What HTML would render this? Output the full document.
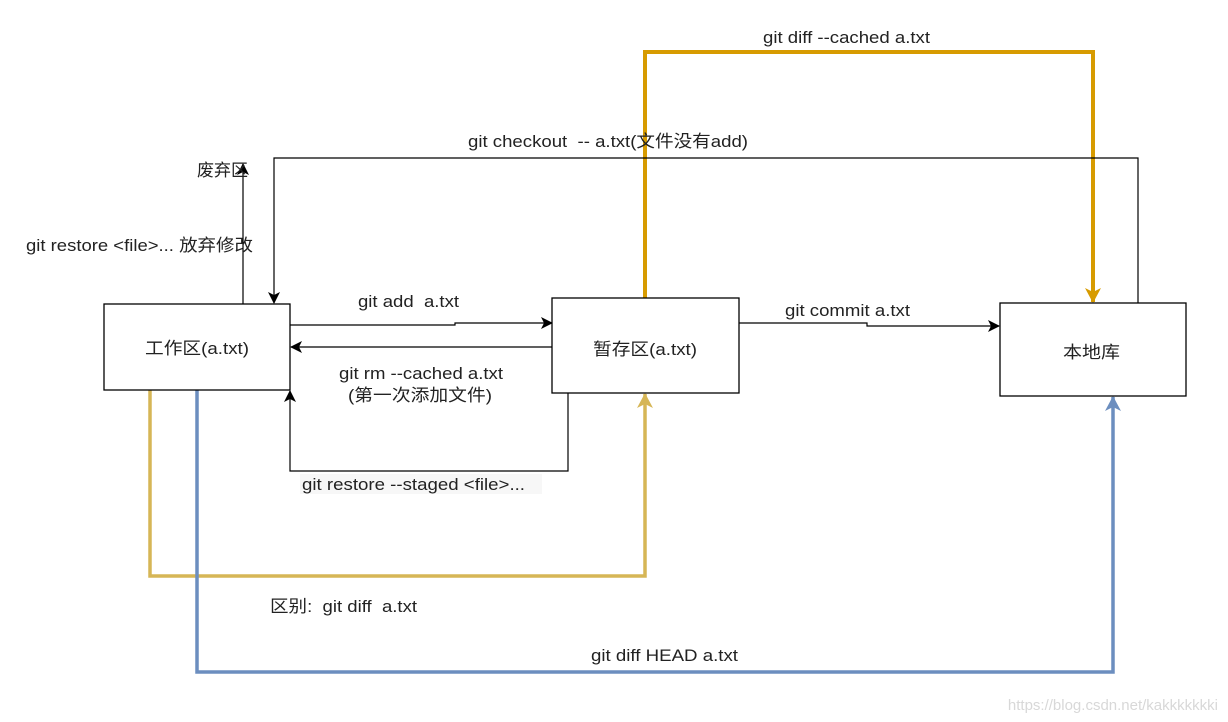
<!DOCTYPE html>
<html><head><meta charset="utf-8"><style>
html,body{margin:0;padding:0;background:#fff;}
svg{display:block;}
text{font-family:"Liberation Sans","Noto Sans CJK SC",sans-serif;font-size:17px;fill:#222;}
</style></head><body>
<svg width="1228" height="722" viewBox="0 0 1228 722" xmlns="http://www.w3.org/2000/svg">
<defs>
<marker id="ak" markerWidth="12" markerHeight="12" refX="11" refY="6" orient="auto" markerUnits="userSpaceOnUse"><path d="M0,0 L12,6 L0,12 L3,6 Z" fill="#000"/></marker>
<marker id="ao" markerWidth="16" markerHeight="16" refX="14" refY="8" orient="auto" markerUnits="userSpaceOnUse"><path d="M0,0 L15,8 L0,16 L4,8 Z" fill="#d79b00"/></marker>
<marker id="ay" markerWidth="16" markerHeight="16" refX="14" refY="8" orient="auto" markerUnits="userSpaceOnUse"><path d="M0,0 L15,8 L0,16 L4,8 Z" fill="#d6b656"/></marker>
<marker id="ab" markerWidth="16" markerHeight="16" refX="14" refY="8" orient="auto" markerUnits="userSpaceOnUse"><path d="M0,0 L15,8 L0,16 L4,8 Z" fill="#6c8ebf"/></marker>
</defs>
<g fill="none">
<polyline points="150,390 150,576 645,576 645,394" stroke="#d6b656" stroke-width="3.5" marker-end="url(#ay)"/>
<polyline points="197,390 197,672 1113,672 1113,397" stroke="#6c8ebf" stroke-width="3.5" marker-end="url(#ab)"/>
<polyline points="645,298 645,52 1093,52 1093,302" stroke="#d79b00" stroke-width="4" marker-end="url(#ao)"/>
<polyline points="1138,303 1138,158 274,158 274,303" stroke="#000" stroke-width="1.2" marker-end="url(#ak)"/>
<polyline points="243,304 243,164" stroke="#000" stroke-width="1.2" marker-end="url(#ak)"/>
<polyline points="290,325 455,325 455,323 552,323" stroke="#000" stroke-width="1.2" marker-end="url(#ak)"/>
<polyline points="552,347 291,347" stroke="#000" stroke-width="1.2" marker-end="url(#ak)"/>
<polyline points="568,393 568,471 290,471 290,391" stroke="#000" stroke-width="1.2" marker-end="url(#ak)"/>
<polyline points="739,323 867,323 867,326 999,326" stroke="#000" stroke-width="1.2" marker-end="url(#ak)"/>
<rect x="104" y="304" width="186" height="86" fill="#fff" stroke="#000" stroke-width="1.3"/>
<rect x="552" y="298" width="187" height="95" fill="#fff" stroke="#000" stroke-width="1.3"/>
<rect x="1000" y="303" width="186" height="93" fill="#fff" stroke="#000" stroke-width="1.3"/>
</g>
<text x="145" y="354" textLength="104" lengthAdjust="spacingAndGlyphs">工作区(a.txt)</text>
<text x="593" y="355" textLength="104" lengthAdjust="spacingAndGlyphs">暂存区(a.txt)</text>
<text x="1063" y="358" textLength="57" lengthAdjust="spacingAndGlyphs">本地库</text>
<text x="763" y="43" textLength="167" lengthAdjust="spacingAndGlyphs">git diff --cached a.txt</text>
<text x="468" y="147" textLength="280" lengthAdjust="spacingAndGlyphs">git checkout &#160;-- a.txt(文件没有add)</text>
<text x="197" y="176" textLength="51" lengthAdjust="spacingAndGlyphs">废弃区</text>
<text x="26" y="251" textLength="227" lengthAdjust="spacingAndGlyphs">git restore &lt;file&gt;... 放弃修改</text>
<text x="358" y="307" textLength="101" lengthAdjust="spacingAndGlyphs">git add &#160;a.txt</text>
<text x="339" y="379" textLength="164" lengthAdjust="spacingAndGlyphs">git rm --cached a.txt</text>
<text x="348" y="401" textLength="144" lengthAdjust="spacingAndGlyphs">(第一次添加文件)</text>
<rect x="300" y="474" width="242" height="20" fill="#f7f7f7"/>
<text x="302" y="490" textLength="223" lengthAdjust="spacingAndGlyphs">git restore --staged &lt;file&gt;...</text>
<text x="785" y="316" textLength="125" lengthAdjust="spacingAndGlyphs">git commit a.txt</text>
<text x="270" y="612" textLength="147" lengthAdjust="spacingAndGlyphs">区别: &#160;git diff &#160;a.txt</text>
<text x="591" y="661" textLength="147" lengthAdjust="spacingAndGlyphs">git diff HEAD a.txt</text>
<text x="1218" y="710" text-anchor="end" style="fill:#d8d8d8;font-size:15px">https://blog.csdn.net/kakkkkkkki</text>
</svg>
</body></html>
